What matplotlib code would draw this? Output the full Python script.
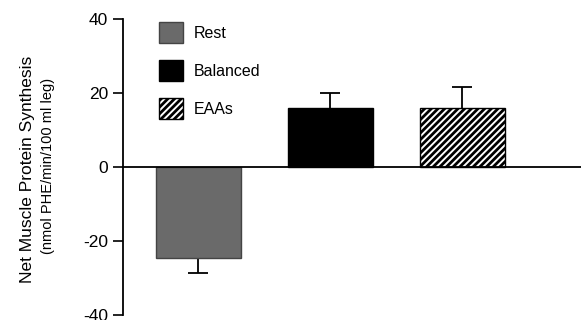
#Net muscle protein synthesis bar chart
import matplotlib.pyplot as plt
import numpy as np

plt.rcParams['font.family'] = ['Liberation Sans', 'DejaVu Sans']
plt.rcParams['axes.unicode_minus'] = False
plt.rcParams['hatch.linewidth'] = 2.0

#Data
groups = ['Rest', 'Balanced', 'EAAs']
values = [-24.5, 15.8, 15.8]
errors = [4.3, 4.3, 5.9]
colors = ['#6a6a6a', '#000000', '#ffffff']
edges = ['#444444', '#000000', '#000000']
hatches = ['', '', '/////']

fig = plt.figure(figsize=(5.81, 3.2), dpi=100)
ax = fig.add_axes([0.212, 0.016, 0.788, 0.925])

x = np.arange(len(groups))
vals = np.array(values)
errs = np.array(errors)
#error bars only point away from zero
tips = vals + np.sign(vals) * errs

bars = ax.bar(x, vals, width=0.645, color=colors, edgecolor=edges,
              linewidth=1.0, hatch=hatches, zorder=2)
ax.vlines(x, vals, tips, color='black', linewidth=1.3, zorder=1)
ax.plot(x, tips, ls='none', marker='_', markersize=15, markeredgewidth=1.3,
        color='black', zorder=1)

ax.set_xlim(-0.568, 2.9)
ax.set_ylim(-40, 40)
ax.set_yticks([-40, -20, 0, 20, 40])
ax.tick_params(axis='y', length=7, width=1.2, labelsize=12.5, pad=4)
ax.set_xticks([])
ax.spines['top'].set_visible(False)
ax.spines['right'].set_visible(False)
ax.spines['bottom'].set_position(('data', 0))
ax.spines['left'].set_linewidth(1.3)
ax.spines['bottom'].set_linewidth(1.3)

#Two line y label
fig.text(0.047, 0.472, 'Net Muscle Protein Synthesis', rotation=90,
         ha='center', va='center', fontsize=12.5)
fig.text(0.083, 0.48, '(nmol PHE/min/100 ml leg)', rotation=90,
         ha='center', va='center', fontsize=10.5)

#Legend
ax.legend(bars, groups, loc='upper left', bbox_to_anchor=(0.274, 0.93),
          bbox_transform=fig.transFigure, frameon=False, fontsize=11.5,
          handlelength=1.5, handleheight=1.65, labelspacing=1.05,
          handletextpad=0.65, borderpad=0, borderaxespad=0)

plt.savefig('out.png', dpi=100)
